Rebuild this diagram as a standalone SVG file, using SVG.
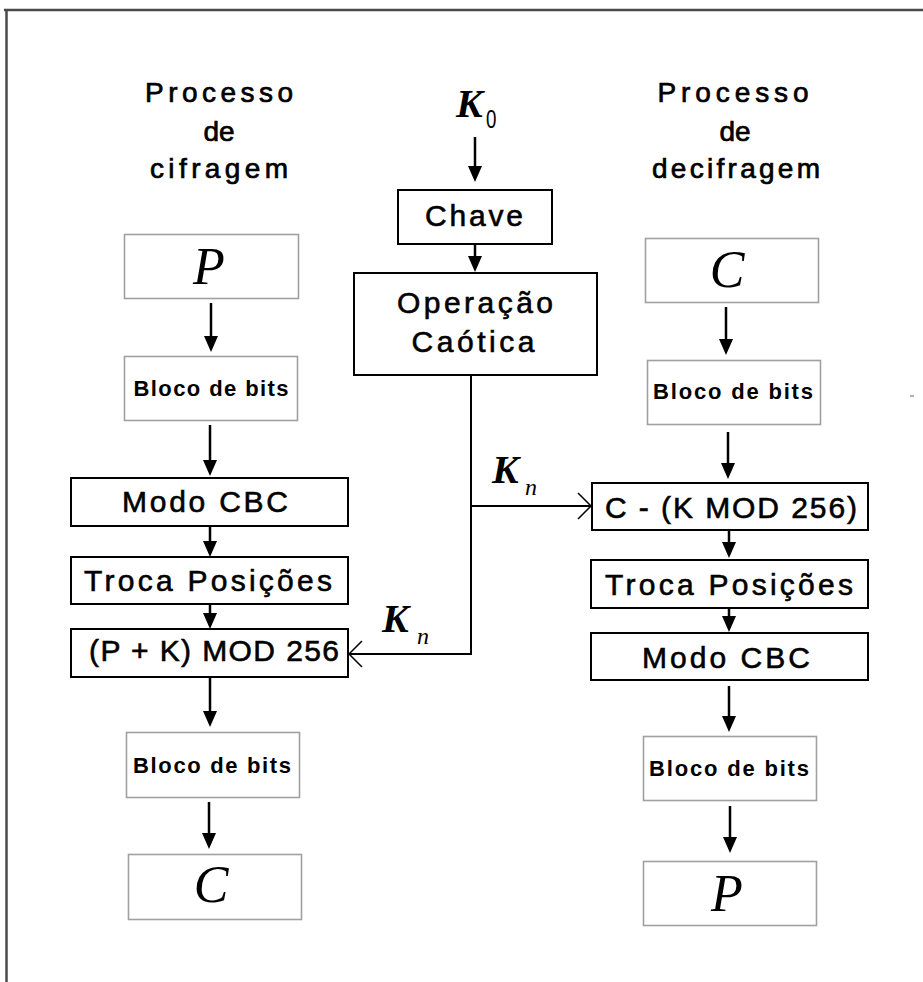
<svg xmlns="http://www.w3.org/2000/svg" width="923" height="982" viewBox="0 0 923 982">
<style>
.gbox{fill:#fff;stroke:#a0a0a0;stroke-width:1.6}
.bbox{fill:#fff;stroke:#000;stroke-width:2}
.t{font-family:"Liberation Sans",Arial,sans-serif;font-size:30px;fill:#000;stroke:#000;stroke-width:0.6;text-anchor:middle}
.hdr{font-family:"Liberation Sans",Arial,sans-serif;font-size:28px;fill:#000;stroke:#000;stroke-width:0.7;text-anchor:middle}
.bl{font-family:"Liberation Sans",Arial,sans-serif;font-size:22px;font-weight:bold;fill:#000;text-anchor:middle}
.m{font-family:"Liberation Serif","Times New Roman",serif;font-style:italic;font-size:52px;fill:#000;text-anchor:middle}
.k{font-family:"Liberation Serif","Times New Roman",serif;font-style:italic;font-weight:bold;font-size:40px;fill:#000}
.sub{font-family:"Liberation Serif","Times New Roman",serif;font-style:italic;font-size:24px;fill:#000}
.arr{stroke:#000;stroke-width:2.5;fill:none;marker-end:url(#fa)}
.kl{stroke:#000;stroke-width:2;fill:none;marker-end:url(#oa)}
</style>
<defs>
<marker id="fa" markerUnits="userSpaceOnUse" markerWidth="16" markerHeight="14" refX="12" refY="7" orient="auto">
<path d="M0,0 L16,7 L0,14 z" fill="#000"/>
</marker>
<marker id="oa" markerUnits="userSpaceOnUse" markerWidth="16" markerHeight="30" refX="14" refY="14" orient="auto" overflow="visible">
<path d="M1,1 L14,14 L1,27" fill="none" stroke="#000" stroke-width="1.5"/>
</marker>
</defs>
<rect width="923" height="982" fill="#fff"/>
<g id="frame">
<line x1="4" y1="10" x2="923" y2="10" stroke="#4a4a4a" stroke-width="2.5"/>
<line x1="6.5" y1="9" x2="6.5" y2="982" stroke="#4a4a4a" stroke-width="2.5"/>
<rect x="910" y="395" width="4" height="2" fill="#b0b0b0"/>
</g>
<g id="hdr-cifragem">
<text class="hdr" x="219" y="102" textLength="148" lengthAdjust="spacing">Processo</text>
<text class="hdr" x="219" y="141">de</text>
<text class="hdr" x="219" y="178" textLength="138" lengthAdjust="spacing">cifragem</text>
</g>
<g id="hdr-decifragem">
<text class="hdr" x="733" y="102" textLength="151" lengthAdjust="spacing">Processo</text>
<text class="hdr" x="735" y="141">de</text>
<text class="hdr" x="736" y="178" textLength="168" lengthAdjust="spacing">decifragem</text>
</g>
<g id="k0">
<text class="k" x="456" y="117">K</text>
<text x="486" y="128" font-family="Liberation Sans,Arial,sans-serif" font-size="26" transform="translate(486,128) scale(0.72,1) translate(-486,-128)">0</text>
</g>
<g id="chave">
<rect class="bbox" x="398" y="190" width="154" height="54"/>
<text class="t" x="474" y="226" textLength="98" lengthAdjust="spacing">Chave</text>
</g>
<g id="operacao">
<rect class="bbox" x="354" y="273" width="243" height="102"/>
<text class="t" x="475" y="313" textLength="156" lengthAdjust="spacing">Operação</text>
<text class="t" x="473" y="352" textLength="123" lengthAdjust="spacing">Caótica</text>
</g>
<g id="l-p">
<rect class="gbox" x="124.5" y="234.5" width="174" height="64"/>
<text class="m" x="209" y="284">P</text>
</g>
<g id="l-bloco1">
<rect class="gbox" x="124.5" y="356.5" width="173" height="64"/>
<text class="bl" x="211" y="396" textLength="155" lengthAdjust="spacing">Bloco de bits</text>
</g>
<g id="l-modo">
<rect class="bbox" x="71" y="478" width="277" height="48"/>
<text class="t" x="205" y="512" textLength="166" lengthAdjust="spacing">Modo CBC</text>
</g>
<g id="l-troca">
<rect class="bbox" x="71" y="557" width="277" height="47"/>
<text class="t" x="208" y="591" textLength="248" lengthAdjust="spacing">Troca Posições</text>
</g>
<g id="l-soma">
<rect class="bbox" x="71" y="629" width="277" height="48"/>
<text class="t" x="214" y="661" textLength="250" lengthAdjust="spacing">(P + K) MOD 256</text>
</g>
<g id="l-bloco2">
<rect class="gbox" x="126.5" y="732.5" width="173" height="65"/>
<text class="bl" x="212" y="773" textLength="158" lengthAdjust="spacing">Bloco de bits</text>
</g>
<g id="l-c">
<rect class="gbox" x="128.5" y="854.5" width="173" height="65"/>
<text class="m" x="211" y="902">C</text>
</g>
<g id="r-c">
<rect class="gbox" x="645.5" y="238.5" width="173" height="64"/>
<text class="m" x="727" y="287">C</text>
</g>
<g id="r-bloco1">
<rect class="gbox" x="647.5" y="360.5" width="173" height="64"/>
<text class="bl" x="733" y="399" textLength="160" lengthAdjust="spacing">Bloco de bits</text>
</g>
<g id="r-sub">
<rect class="bbox" x="592" y="483" width="276" height="47"/>
<text class="t" x="731" y="518" textLength="252" lengthAdjust="spacing">C - (K MOD 256)</text>
</g>
<g id="r-troca">
<rect class="bbox" x="591" y="560" width="277" height="48"/>
<text class="t" x="729" y="595" textLength="248" lengthAdjust="spacing">Troca Posições</text>
</g>
<g id="r-modo">
<rect class="bbox" x="591" y="633" width="277" height="47"/>
<text class="t" x="726" y="668" textLength="168" lengthAdjust="spacing">Modo CBC</text>
</g>
<g id="r-bloco2">
<rect class="gbox" x="643.5" y="736.5" width="173" height="64"/>
<text class="bl" x="729" y="776" textLength="160" lengthAdjust="spacing">Bloco de bits</text>
</g>
<g id="r-p">
<rect class="gbox" x="643.5" y="861.5" width="173" height="64"/>
<text class="m" x="727" y="911">P</text>
</g>
<g id="kn-labels">
<text class="k" x="492" y="483">K</text>
<text class="sub" x="525" y="495">n</text>
<text class="k" x="382" y="632">K</text>
<text class="sub" x="417" y="644">n</text>
</g>
<g id="connectors">
<line class="arr" x1="475" y1="137" x2="475" y2="178"/>
<line class="arr" x1="475" y1="244" x2="475" y2="268"/>
<line class="arr" x1="211" y1="303" x2="211" y2="348"/>
<line class="arr" x1="210" y1="425" x2="210" y2="472"/>
<line class="arr" x1="210" y1="526" x2="210" y2="553"/>
<line class="arr" x1="210" y1="604" x2="210" y2="625"/>
<line class="arr" x1="210" y1="677" x2="210" y2="723"/>
<line class="arr" x1="209" y1="802" x2="209" y2="845"/>
<line class="arr" x1="726" y1="307" x2="726" y2="351"/>
<line class="arr" x1="728" y1="432" x2="728" y2="475"/>
<line class="arr" x1="729" y1="530" x2="729" y2="554"/>
<line class="arr" x1="729" y1="608" x2="729" y2="628"/>
<line class="arr" x1="729" y1="686" x2="729" y2="728"/>
<line class="arr" x1="730" y1="806" x2="730" y2="849"/>
<path class="kl" d="M471,375 V654 H349"/>
<path class="kl" d="M471,506 H591"/>
</g>
</svg>
